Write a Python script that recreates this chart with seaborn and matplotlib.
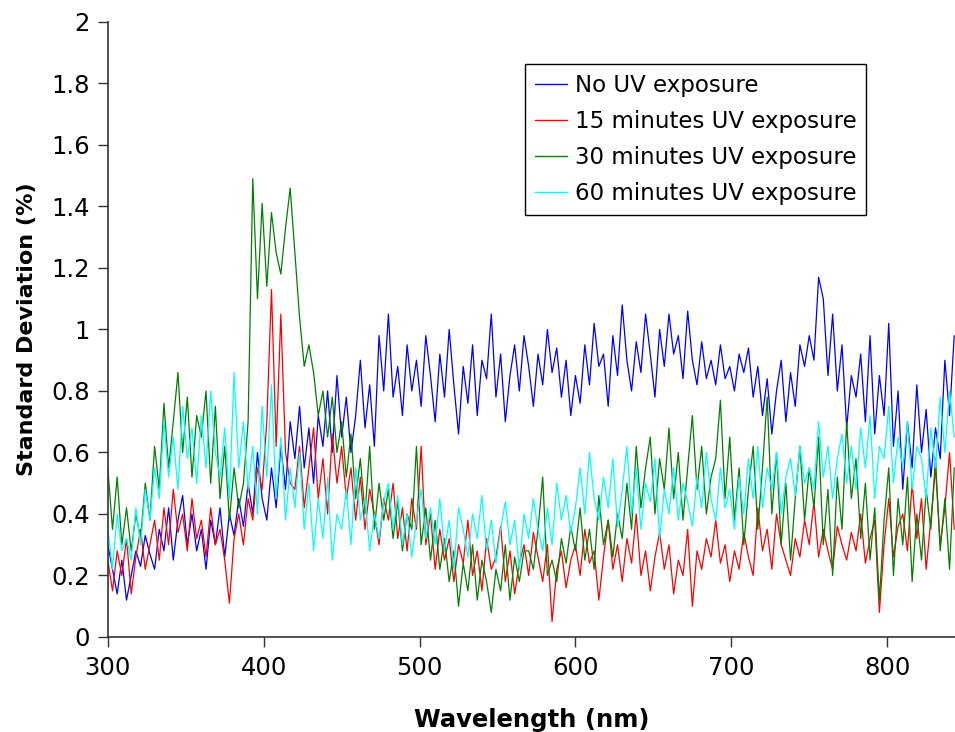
import numpy as np
import pandas as pd
import matplotlib
matplotlib.use("Agg")
import matplotlib.pyplot as plt
import seaborn as sns

# Wavelength grid (nm), sampled every 3 nm
wavelength = list(range(300, 844, 3))

no_uv = [
    0.30, 0.22, 0.14, 0.25, 0.12, 0.20, 0.28, 0.23, 0.33, 0.27,
    0.22, 0.35, 0.28, 0.42, 0.25, 0.38, 0.46, 0.30, 0.40, 0.28,
    0.35, 0.22, 0.38, 0.30, 0.42, 0.26, 0.40, 0.33, 0.45, 0.36,
    0.50, 0.40, 0.60, 0.45, 0.38, 0.55, 0.42, 0.62, 0.48, 0.70,
    0.58, 0.75, 0.55, 0.68, 0.50, 0.72, 0.62, 0.80, 0.60, 0.85,
    0.65, 0.78, 0.60, 0.72, 0.90, 0.68, 0.82, 0.62, 0.98, 0.80,
    1.05, 0.78, 0.88, 0.72, 0.95, 0.80, 0.90, 0.75, 0.98, 0.85,
    0.70, 0.92, 0.78, 1.00, 0.82, 0.66, 0.88, 0.76, 0.95, 0.72,
    0.90, 0.84, 1.05, 0.78, 0.92, 0.70, 0.85, 0.95, 0.80, 0.98,
    0.88, 0.75, 0.92, 0.82, 1.00, 0.86, 0.94, 0.78, 0.90, 0.72,
    0.85, 0.76, 0.95, 0.82, 1.02, 0.88, 0.92, 0.75, 0.98, 0.85,
    1.08, 0.90, 0.80, 0.96, 0.86, 1.05, 0.92, 0.78, 1.00, 0.88,
    1.05, 0.92, 0.98, 0.84, 1.06, 0.90, 0.82, 0.96, 0.84, 0.90,
    0.82, 0.95, 0.84, 0.88, 0.80, 0.92, 0.86, 0.94, 0.78, 0.88,
    0.72, 0.84, 0.66, 0.80, 0.90, 0.70, 0.86, 0.75, 0.95, 0.88,
    0.98, 0.90, 1.17, 1.10, 0.85, 1.05, 0.80, 0.95, 0.68, 0.85,
    0.78, 0.92, 0.70, 0.98, 0.66, 0.85, 0.72, 1.02, 0.62, 0.80,
    0.48, 0.70, 0.55, 0.82, 0.60, 0.74, 0.52, 0.68, 0.58, 0.90,
    0.72, 0.98,
]

uv_15 = [
    0.25, 0.15, 0.28, 0.20, 0.32, 0.14, 0.26, 0.35, 0.22, 0.30,
    0.38, 0.25, 0.42, 0.30, 0.48, 0.34, 0.40, 0.28, 0.45, 0.32,
    0.38, 0.26, 0.42, 0.30, 0.35, 0.25, 0.11, 0.32, 0.40, 0.30,
    0.45, 0.38, 0.55, 0.48, 0.70, 1.13, 0.62, 1.05, 0.60, 0.50,
    0.48, 0.62, 0.42, 0.55, 0.68, 0.45, 0.58, 0.40, 0.66, 0.50,
    0.62, 0.45, 0.55, 0.38, 0.52, 0.35, 0.48, 0.40, 0.30, 0.45,
    0.38, 0.50, 0.32, 0.42, 0.28, 0.45, 0.35, 0.62, 0.30, 0.40,
    0.22, 0.35, 0.25, 0.32, 0.18, 0.30, 0.24, 0.38, 0.20, 0.28,
    0.15, 0.32, 0.22, 0.26, 0.36, 0.18, 0.28, 0.14, 0.24, 0.30,
    0.20, 0.34, 0.26, 0.18, 0.30, 0.05, 0.22, 0.28, 0.16, 0.25,
    0.30, 0.20, 0.35, 0.24, 0.28, 0.12, 0.26, 0.38, 0.22, 0.30,
    0.18, 0.32, 0.24, 0.40, 0.20, 0.28, 0.15, 0.26, 0.34, 0.22,
    0.30, 0.14, 0.25, 0.20, 0.35, 0.10, 0.28, 0.22, 0.32, 0.26,
    0.38, 0.24, 0.30, 0.18, 0.28, 0.22, 0.34, 0.26, 0.20, 0.42,
    0.28, 0.35, 0.22, 0.40, 0.30, 0.25, 0.20, 0.32, 0.26, 0.38,
    0.30, 0.44, 0.26, 0.35, 0.28, 0.22, 0.36, 0.30, 0.25, 0.34,
    0.28, 0.40, 0.24, 0.32, 0.38, 0.08, 0.30, 0.45, 0.26, 0.36,
    0.40, 0.28, 0.50, 0.32, 0.45, 0.22, 0.38, 0.55, 0.30, 0.42,
    0.60, 0.35,
]

uv_30 = [
    0.55, 0.35, 0.52, 0.30, 0.42, 0.28, 0.40, 0.32, 0.50, 0.38,
    0.62, 0.48, 0.76, 0.55, 0.70, 0.86, 0.60, 0.78, 0.52, 0.72,
    0.65, 0.80, 0.50, 0.75, 0.45, 0.62, 0.38, 0.55, 0.42, 0.50,
    0.70, 1.49, 1.10, 1.41, 1.14, 1.38, 1.25, 1.18, 1.33, 1.46,
    1.25, 1.04, 0.88, 0.95, 0.86, 0.72, 0.80, 0.65, 0.78, 0.60,
    0.70, 0.52, 0.66, 0.45, 0.58, 0.40, 0.62, 0.35, 0.50, 0.38,
    0.48, 0.32, 0.44, 0.28, 0.40, 0.35, 0.62, 0.30, 0.42, 0.25,
    0.38, 0.22, 0.32, 0.18, 0.28, 0.10, 0.24, 0.15, 0.30, 0.12,
    0.25, 0.18, 0.08, 0.22, 0.15, 0.30, 0.12, 0.26, 0.18, 0.28,
    0.28, 0.22, 0.35, 0.52, 0.20, 0.25, 0.18, 0.32, 0.24, 0.36,
    0.28, 0.42, 0.25, 0.35, 0.22, 0.46, 0.30, 0.38, 0.26, 0.40,
    0.32, 0.50, 0.35, 0.62, 0.42, 0.55, 0.65, 0.40, 0.58, 0.48,
    0.68, 0.45, 0.60, 0.38, 0.55, 0.72, 0.48, 0.62, 0.40, 0.52,
    0.58, 0.77, 0.45, 0.65, 0.38, 0.55, 0.30, 0.48, 0.62, 0.35,
    0.55, 0.78, 0.40, 0.60, 0.30, 0.50, 0.25, 0.45, 0.62, 0.38,
    0.55, 0.42, 0.65, 0.30, 0.48, 0.20, 0.52, 0.35, 0.70, 0.45,
    0.58, 0.32, 0.50, 0.25, 0.42, 0.12, 0.38, 0.55, 0.20, 0.45,
    0.30, 0.52, 0.18, 0.40, 0.25, 0.48, 0.35, 0.58, 0.28, 0.45,
    0.22, 0.55,
]

uv_60 = [
    0.35, 0.22, 0.40, 0.28, 0.32, 0.25, 0.42, 0.30, 0.48, 0.38,
    0.55, 0.45, 0.70, 0.52, 0.65, 0.48, 0.75, 0.58, 0.68, 0.50,
    0.72, 0.55, 0.80, 0.60, 0.52, 0.68, 0.45, 0.86, 0.55, 0.70,
    0.48, 0.62, 0.40, 0.75, 0.52, 0.82, 0.45, 0.65, 0.38, 0.55,
    0.42, 0.60, 0.35, 0.50, 0.28, 0.45, 0.32, 0.52, 0.25, 0.40,
    0.35, 0.48, 0.30, 0.55, 0.38, 0.45, 0.28, 0.40, 0.32, 0.44,
    0.50, 0.35, 0.46, 0.30, 0.40, 0.26, 0.38, 0.48, 0.32, 0.42,
    0.30, 0.45, 0.28, 0.38, 0.22, 0.42, 0.35, 0.26, 0.40, 0.32,
    0.46, 0.28, 0.38, 0.24, 0.35, 0.44, 0.30, 0.38, 0.22, 0.40,
    0.32, 0.45, 0.35, 0.28, 0.42, 0.30, 0.50, 0.38, 0.46, 0.34,
    0.42, 0.55, 0.40, 0.60, 0.45, 0.38, 0.52, 0.42, 0.58, 0.36,
    0.48, 0.62, 0.40, 0.55, 0.35, 0.50, 0.44, 0.58, 0.32, 0.48,
    0.40, 0.55, 0.38, 0.50, 0.44, 0.36, 0.52, 0.42, 0.60, 0.45,
    0.38, 0.55, 0.42, 0.48, 0.35, 0.52, 0.40, 0.58, 0.45, 0.62,
    0.42, 0.55, 0.48, 0.60, 0.40, 0.52, 0.58, 0.46, 0.62, 0.50,
    0.55, 0.48, 0.70, 0.52, 0.62, 0.45, 0.58, 0.66, 0.50, 0.62,
    0.48, 0.68, 0.55, 0.72, 0.45, 0.62, 0.58, 0.75, 0.50, 0.65,
    0.55, 0.70, 0.48, 0.62, 0.58, 0.45, 0.68, 0.55, 0.78, 0.60,
    0.80, 0.65,
]

series_names = [
    "No UV exposure",
    "15 minutes UV exposure",
    "30 minutes UV exposure",
    "60 minutes UV exposure",
]
series_values = [no_uv, uv_15, uv_30, uv_60]
series_colors = ["#0000FF", "#FF0000", "#008000", "#00FFFF"]

x_ticks = [300, 400, 500, 600, 700, 800]
y_ticks = [0, 0.2, 0.4, 0.6, 0.8, 1.0, 1.2, 1.4, 1.6, 1.8, 2.0]
y_tick_labels = ["0", "0.2", "0.4", "0.6", "0.8", "1", "1.2", "1.4", "1.6", "1.8", "2"]

frames = [
    pd.DataFrame({"Wavelength": wavelength, "SD": vals, "Series": name})
    for name, vals in zip(series_names, series_values)
]
df = pd.concat(frames, ignore_index=True)

sns.set_style("ticks")
plt.rcParams["font.family"] = ["DejaVu Sans"]

fig = plt.figure(figsize=(9.55, 7.32), dpi=100)
ax = fig.add_axes([0.1129, 0.1298, 0.8871, 0.8402])

sns.lineplot(
    data=df, x="Wavelength", y="SD", hue="Series",
    hue_order=series_names, palette=series_colors,
    linewidth=0.9, ax=ax, estimator=None, sort=False,
)

ax.set_xlim(300, 843.5)
ax.set_ylim(0, 2)
ax.set_xticks(x_ticks)
ax.set_yticks(y_ticks)
ax.set_yticklabels(y_tick_labels)
ax.tick_params(axis="both", labelsize=17.5, length=7, width=1.0,
               color="#333333", labelcolor="black")
ax.tick_params(axis="y", pad=6)
ax.tick_params(axis="x", pad=7)
ax.set_xlabel("Wavelength (nm)", fontsize=17.5, fontweight="bold",
              labelpad=20, color="black")
ax.set_ylabel("Standard Deviation (%)", fontsize=16, fontweight="bold",
              labelpad=10, color="black")

for side in ("top", "right"):
    ax.spines[side].set_visible(False)
for side in ("left", "bottom"):
    ax.spines[side].set_color("#333333")
    ax.spines[side].set_linewidth(1.2)

leg = ax.legend(
    loc="upper left", bbox_to_anchor=(0.4925, 0.9317), borderaxespad=0,
    fontsize=16.5, frameon=True, fancybox=False, framealpha=1,
    edgecolor="black", handlelength=1.4, handletextpad=0.35,
    labelspacing=0.58, borderpad=0.42, title=None,
)
leg.get_frame().set_linewidth(1.0)
for text in leg.get_texts():
    text.set_color("black")
for line in leg.get_lines():
    line.set_linewidth(1.0)

fig.savefig("out.png", dpi=100, facecolor="white")
